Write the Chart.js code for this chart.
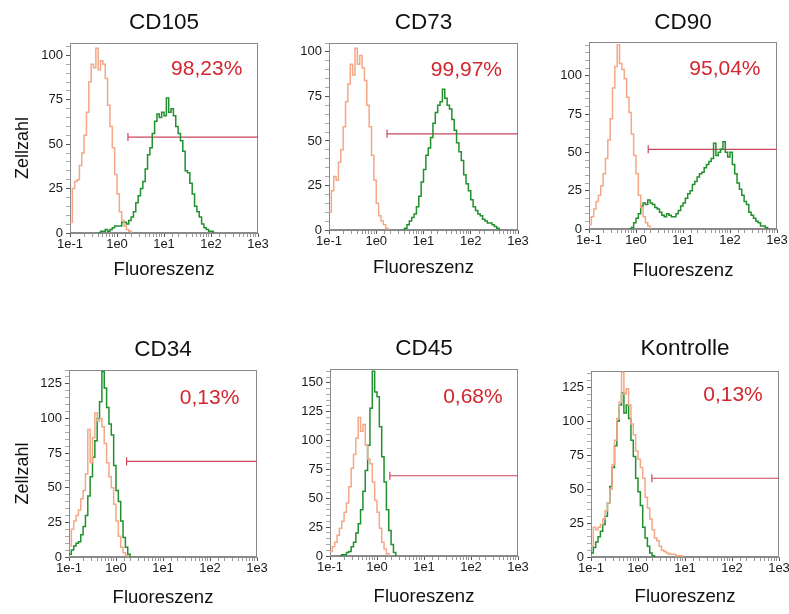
<!DOCTYPE html>
<html>
<head>
<meta charset="utf-8">
<title>Durchflusszytometrie</title>
<script src="https://cdn.jsdelivr.net/npm/chart.js@4.4.0/dist/chart.umd.min.js"></script>
<style>
html, body { margin: 0; padding: 0; background: #fff; }
#page { position: relative; width: 789px; height: 614px; overflow: hidden; }
#page canvas { position: absolute; }
</style>
</head>
<body>
<div id="page"></div>
<script>
// histogram channels: 20 bins per decade, starting at 1e-1
const BINS_PER_DECADE = 20;
const FIRST_DECADE = -1;

const markers = ['CD105', 'CD73', 'CD90', 'CD34', 'CD45', 'Kontrolle'];
const percentText = ['98,23%', '99,97%', '95,04%', '0,13%', '0,68%', '0,13%'];
const percentX = [81, 81, 78, 98, 110, 105];
const percentY = [92, 90, 104, 115, 138, 119];
const gateStart = [1.71, 1.69, 1.82, 1.68, 1.88, 1.97];
const gateLevel = [54, 54, 52, 69, 69.5, 58];
const yMax = [107, 105, 122, 135, 162, 137];
const xMin = 0.1;
const xMax = 1000;

// cell counts per channel, isotype control (orange) and stained sample (green)
const isoCD105 = [6,25,29,30,38,45,55,68,85,95,93,104,92,97,95,87,72,60,48,33,22,12,7,4,2,1,0];
const stainCD105 = [0,0,0,0,0,0,0,0,0,0,0,0,0,
  1,1,2,1,2,3,4,4,4,6,6,5,7,9,12,17,21,25,29,36,44,48,56,63,67,65,68,66,76,68,70,66,60,56,52,46,35,34,28,22,15,12,9,5,3,2,1,1,0];

const isoCD73 = [10,22,30,28,38,45,58,72,82,93,87,102,93,98,91,84,70,58,42,28,15,8,5,3,1,0];
const stainCD73 = [0,0,0,0,0,0,0,0,0,0,0,0,0,0,0,0,0,0,0,0,0,0,0,0,0,0,0,0,0,0,0,0,
  1,3,5,7,9,13,19,27,34,42,46,52,60,66,70,72,79,74,70,68,62,56,49,44,39,31,26,22,17,13,11,9,8,6,5,4,4,3,2,1,0];

const isoCD90 = [3,8,13,18,22,28,36,46,58,72,92,106,120,108,104,98,86,76,62,48,36,22,14,8,4,2,0];
const stainCD90 = [0,0,0,0,0,0,0,0,0,0,0,0,0,0,0,0,0,0,
  1,4,7,10,15,17,16,19,17,16,14,13,11,9,8,10,9,8,8,10,12,15,17,20,23,25,29,31,34,36,37,40,42,44,46,56,
  48,50,52,57,50,47,50,42,36,30,26,22,18,16,11,9,7,5,4,2,2,1,0];

const isoCD34 = [8,20,26,30,34,42,48,60,92,68,86,104,98,100,94,82,68,58,50,38,26,15,7,3,1,0];
const stainCD34 = [2,5,8,10,11,16,22,30,44,58,72,84,100,112,134,122,108,96,88,66,48,40,26,14,7,2,0];

const isoCD45 = [4,8,12,18,24,30,38,46,60,76,88,102,120,108,114,96,84,80,64,48,38,24,12,6,2,0];
const stainCD45 = [0,0,0,0,0,
  1,1,3,4,8,12,20,28,40,56,74,96,128,160,142,138,112,86,64,40,22,10,3,0];

const isoKontrolle = [8,22,20,22,24,28,34,40,50,68,86,102,114,136,120,124,112,98,90,78,72,66,58,44,36,28,20,14,12,8,5,4,3,2,2,2,1,1,1,0];
const stainKontrolle = [3,7,11,15,19,24,30,40,52,66,82,100,112,121,106,112,102,86,74,58,48,38,22,14,8,3,1,0];

const isotype = [isoCD105, isoCD73, isoCD90, isoCD34, isoCD45, isoKontrolle];
const stained = [stainCD105, stainCD73, stainCD90, stainCD34, stainCD45, stainKontrolle];

// plot boxes on the page
const panels = [
  {left: 70,  top: 43,  right: 258, bottom: 233, titleY: 22,  xTitleY: 270, yTitle: true},
  {left: 329, top: 43,  right: 518, bottom: 230, titleY: 22,  xTitleY: 268, yTitle: false},
  {left: 589, top: 42,  right: 777, bottom: 229, titleY: 22,  xTitleY: 271, yTitle: false},
  {left: 69,  top: 370, right: 257, bottom: 557, titleY: 349, xTitleY: 598, yTitle: true},
  {left: 330, top: 369, right: 518, bottom: 556, titleY: 348, xTitleY: 597, yTitle: false},
  {left: 591, top: 371, right: 779, bottom: 557, titleY: 348, xTitleY: 597, yTitle: false}
];

const FONT = '"Liberation Sans", Arial, Helvetica, sans-serif';
const TITLE_SIZE = 22.5;
const XLABEL_SIZE = 18.5;
const RIGHT_PAD = 16;
const ISO_COLOR = '#f3a887';
const STAIN_COLOR = '#22902e';
const GATE_COLOR = '#c9485b';
const FRAME_COLOR = '#8a8a8a';

function toPoints(counts) {
  const pts = [];
  for (let i = 0; i < counts.length; i++) {
    const prev = i > 0 ? counts[i - 1] : 0;
    const next = i < counts.length - 1 ? counts[i + 1] : 0;
    if (counts[i] > 0 || prev > 0 || next > 0) {
      pts.push({x: Math.pow(10, FIRST_DECADE + i / BINS_PER_DECADE), y: counts[i]});
    }
  }
  return pts;
}

const framePlugin = {
  id: 'frame',
  beforeDatasetsDraw(chart) {
    const a = chart.chartArea;
    const ctx = chart.ctx;
    ctx.save();
    ctx.strokeStyle = FRAME_COLOR;
    ctx.lineWidth = 1;
    ctx.strokeRect(Math.round(a.left) + 0.5, Math.round(a.top) + 0.5,
      Math.round(a.right - a.left) - 1, Math.round(a.bottom - a.top) - 1);
    ctx.restore();
  }
};

const percentPlugin = {
  id: 'percentLabel',
  afterDatasetsDraw(chart, args, opts) {
    const ctx = chart.ctx;
    ctx.save();
    ctx.font = '21px ' + FONT;
    ctx.fillStyle = '#d3262e';
    ctx.textAlign = 'center';
    ctx.textBaseline = 'middle';
    ctx.fillText(opts.text, chart.scales.x.getPixelForValue(opts.x), chart.scales.y.getPixelForValue(opts.y));
    ctx.restore();
  }
};

function createPanel(i) {
  const box = panels[i];
  const yAxisW = box.yTitle ? box.left : 50;
  const canvasLeft = box.left - yAxisW;
  const canvasTop = Math.round(box.titleY - TITLE_SIZE * 1.2 / 2);
  const xAxisH = Math.round(box.xTitleY - box.bottom + XLABEL_SIZE * 1.2 / 2);
  const canvas = document.createElement('canvas');
  canvas.width = box.right + RIGHT_PAD - canvasLeft;
  canvas.height = box.bottom + xAxisH - canvasTop;
  canvas.style.left = canvasLeft + 'px';
  canvas.style.top = canvasTop + 'px';
  document.getElementById('page').appendChild(canvas);

  new Chart(canvas, {
    type: 'line',
    data: {
      datasets: [
        {
          data: toPoints(isotype[i]),
          borderColor: ISO_COLOR,
          borderWidth: 1.5,
          stepped: true,
          pointRadius: 0
        },
        {
          data: toPoints(stained[i]),
          borderColor: STAIN_COLOR,
          borderWidth: 1.5,
          stepped: true,
          pointRadius: 0
        },
        {
          data: [{x: gateStart[i], y: gateLevel[i]}, {x: xMax, y: gateLevel[i]}],
          borderColor: GATE_COLOR,
          borderWidth: 1.2,
          pointStyle: 'line',
          rotation: 90,
          pointRadius: [4, 0],
          pointBorderColor: GATE_COLOR,
          pointBorderWidth: 1.2
        }
      ]
    },
    options: {
      responsive: false,
      animation: false,
      layout: {padding: {left: 0, top: 0, right: RIGHT_PAD, bottom: 0}},
      plugins: {
        legend: {display: false},
        tooltip: {enabled: false},
        title: {
          display: true,
          text: markers[i],
          fullSize: false,
          color: '#111',
          font: {family: FONT, size: TITLE_SIZE, weight: 'normal'},
          padding: {top: 0, bottom: box.top - canvasTop - TITLE_SIZE * 1.2}
        },
        percentLabel: {text: percentText[i], x: percentX[i], y: percentY[i]}
      },
      scales: {
        x: {
          type: 'logarithmic',
          min: xMin,
          max: xMax,
          afterFit(scale) { scale.height = xAxisH; },
          border: {color: FRAME_COLOR},
          grid: {
            drawOnChartArea: false,
            tickLength: 4,
            tickColor: ctx => {
              const e = Math.log10(ctx.tick.value);
              return Math.abs(e - Math.round(e)) < 1e-6 ? '#555' : '#999';
            }
          },
          ticks: {
            autoSkip: false,
            maxRotation: 0,
            padding: 0,
            color: '#1a1a1a',
            font: {family: FONT, size: 13},
            callback(value) {
              const e = Math.log10(value);
              return Math.abs(e - Math.round(e)) < 1e-6 ? '1e' + Math.round(e) : '';
            }
          },
          title: {
            display: true,
            text: 'Fluoreszenz',
            color: '#111',
            font: {family: FONT, size: XLABEL_SIZE},
            padding: {top: 0, bottom: 0}
          }
        },
        y: {
          type: 'linear',
          min: 0,
          max: yMax[i],
          afterFit(scale) { scale.width = yAxisW; },
          border: {color: FRAME_COLOR},
          grid: {
            drawOnChartArea: false,
            tickLength: 4,
            tickColor: ctx => (ctx.tick.value % 25 === 0 ? '#555' : '#aaa')
          },
          ticks: {
            stepSize: 5,
            includeBounds: false,
            autoSkip: false,
            padding: 3,
            color: '#1a1a1a',
            font: {family: FONT, size: 13},
            callback: v => (v % 25 === 0 ? v : '')
          },
          title: {
            display: box.yTitle,
            // trailing spaces push the rotated label a little below the plot centre
            text: 'Zellzahl    ',
            color: '#111',
            font: {family: FONT, size: 18},
            padding: {top: 12, bottom: 0}
          }
        }
      }
    },
    plugins: [framePlugin, percentPlugin]
  });
}

for (let i = 0; i < markers.length; i++) {
  createPanel(i);
}
</script>
</body>
</html>
